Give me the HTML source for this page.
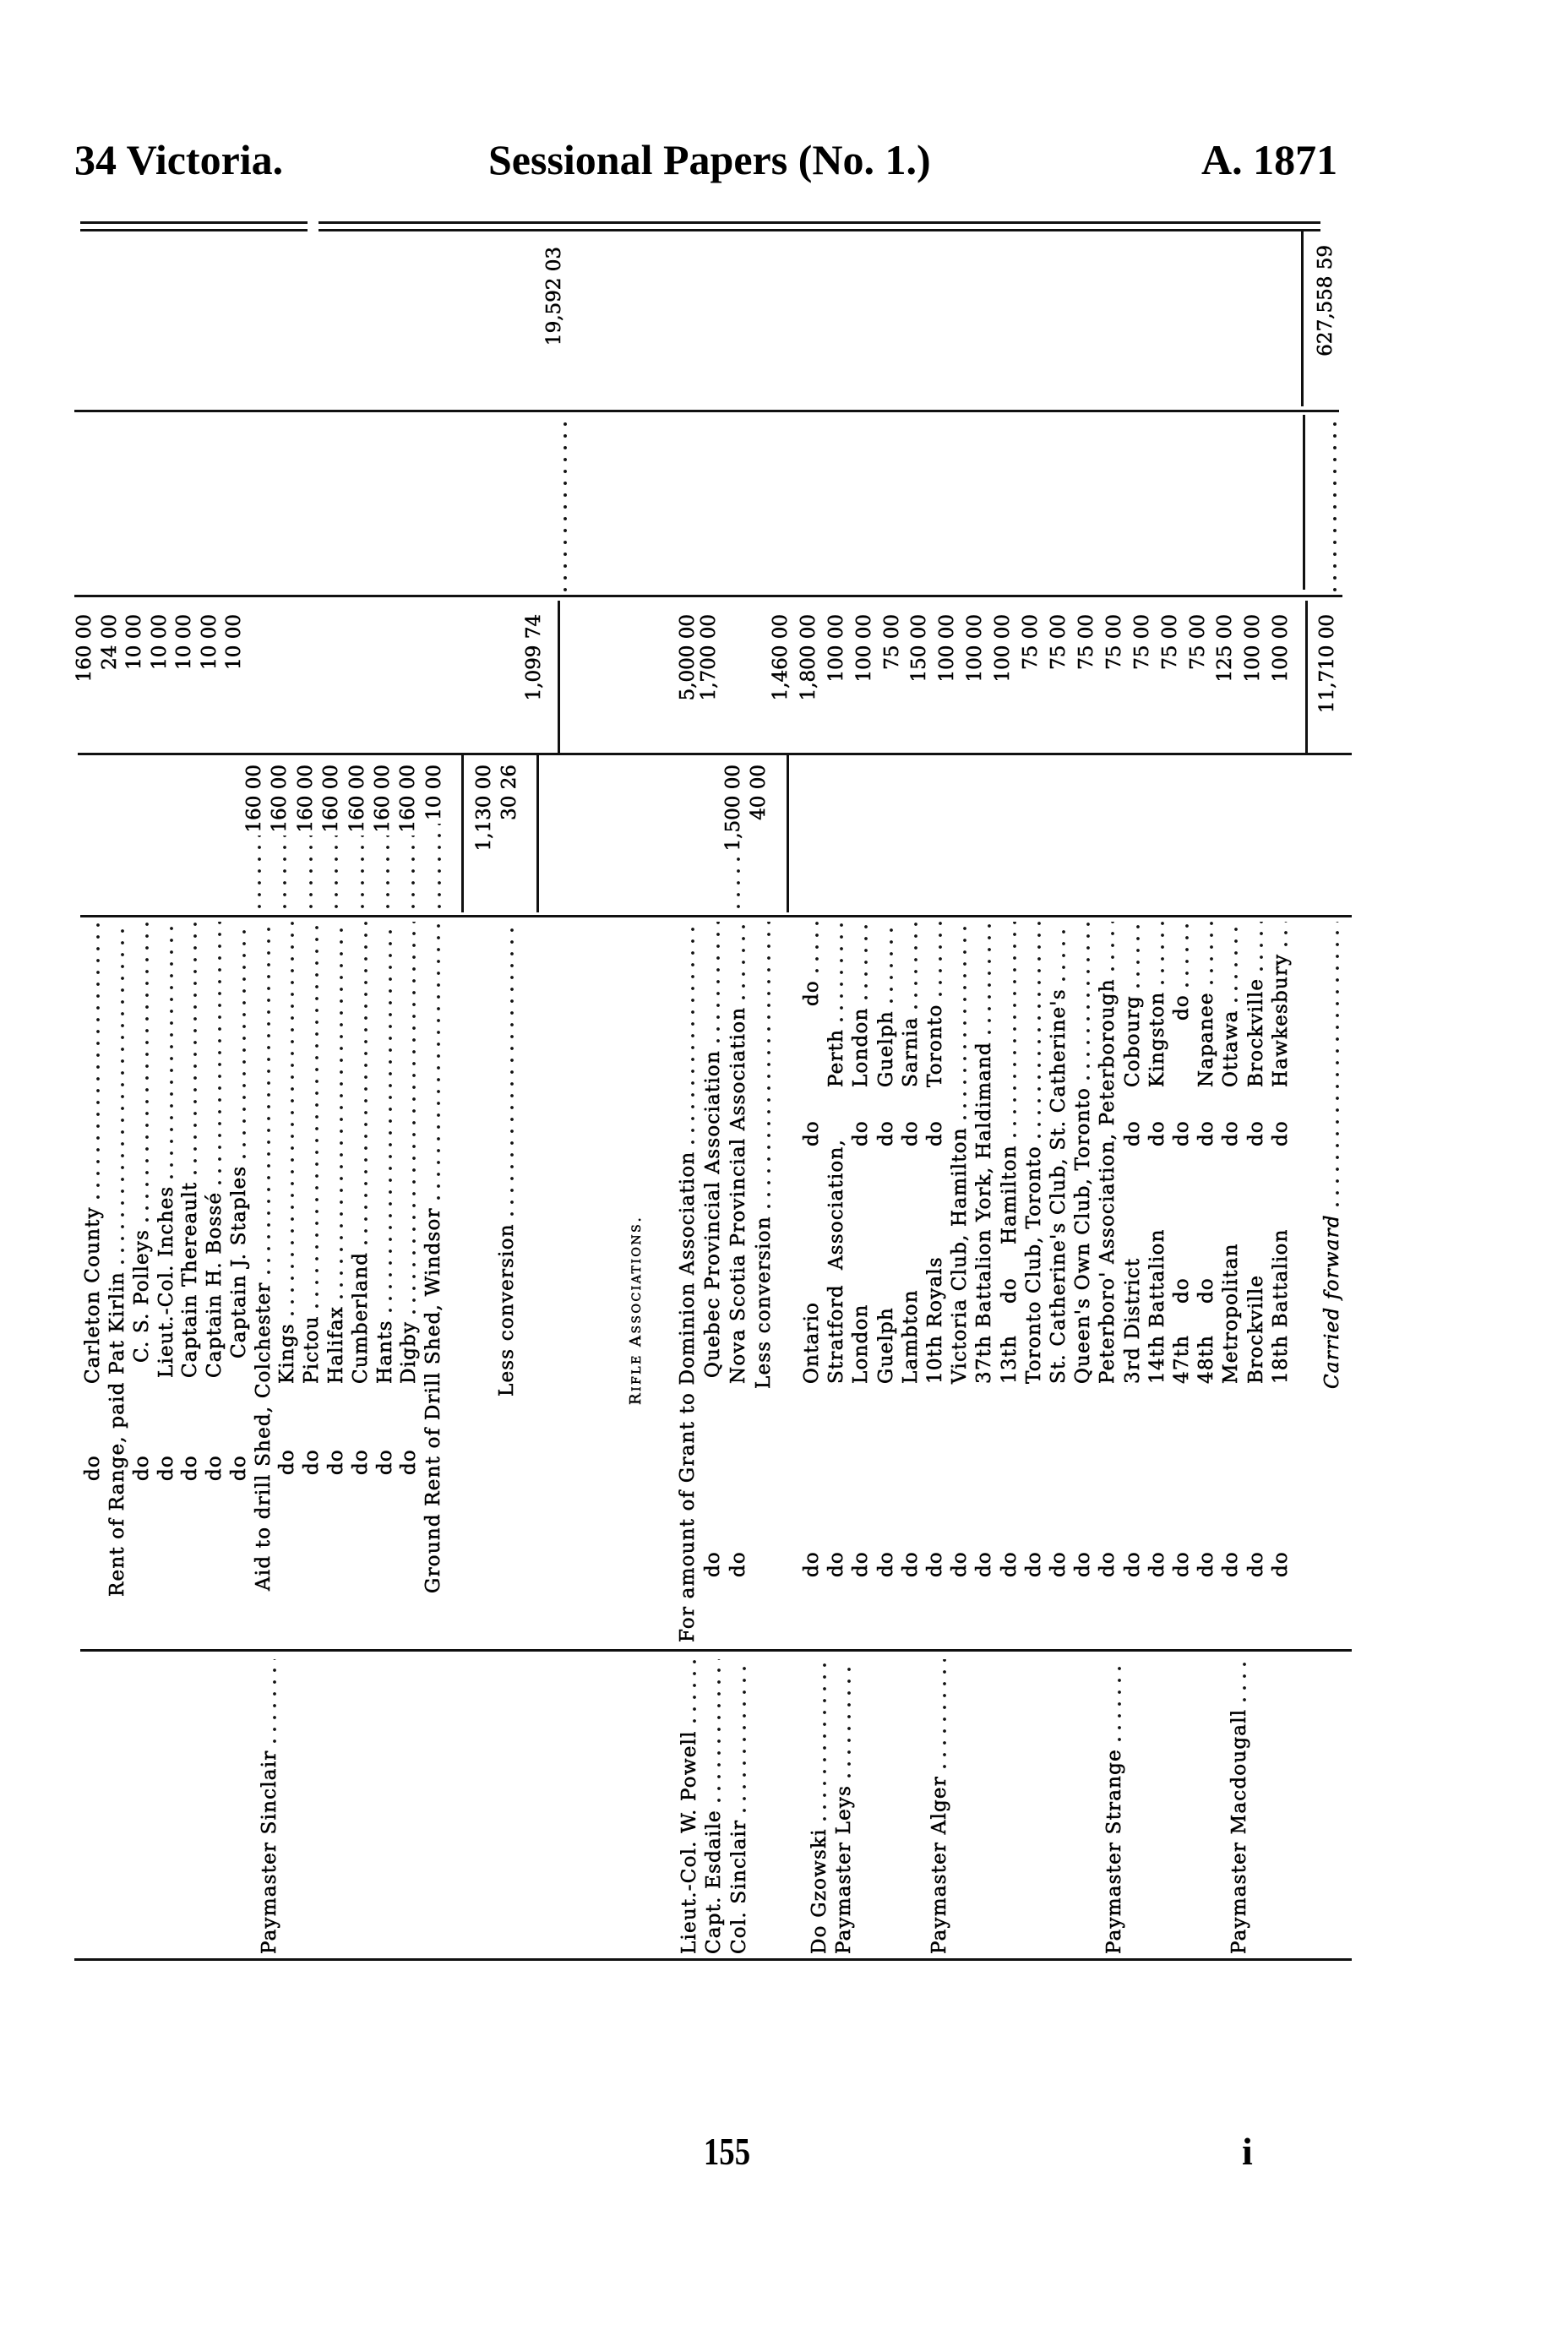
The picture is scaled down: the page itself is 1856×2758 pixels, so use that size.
<!DOCTYPE html>
<html><head><meta charset="utf-8"><style>
body{margin:0;background:#fff}
#p{position:relative;width:1856px;height:2758px;overflow:hidden;background:#fff;color:#000;font-family:"DejaVu Serif","Liberation Serif",serif}
.h{position:absolute;top:164px;font-family:"Liberation Serif",serif;font-weight:bold;font-size:50px;line-height:50px;white-space:nowrap}
.hl{position:absolute;height:3px;background:#111}
.vl{position:absolute;width:3px;background:#111}
.vd{position:absolute;width:4px;background:radial-gradient(circle,#111 1.7px,transparent 2.3px) 0 0/4px 14px repeat-y}
.r{position:absolute;height:28px;line-height:28px;transform-origin:0 0;transform:rotate(-90deg);white-space:nowrap;overflow:hidden;font-size:23px;letter-spacing:1.2px;-webkit-text-stroke:0.5px #000}
.r i{position:absolute;top:0;font-style:normal}
.L{position:absolute;top:0;right:0;display:flex}
.L em{flex:1;margin:0 4px;background:radial-gradient(circle,#111 1.6px,transparent 2.2px) 0 17px/14px 6px repeat-x}
.n{text-align:right;font-size:23px;letter-spacing:0}
</style></head><body><div id="p">
<div class="h" style="left:88px">34 Victoria.</div>
<div class="h" style="left:578px">Sessional Papers (No. 1.)</div>
<div class="h" style="left:1422px">A. 1871</div>

<div class="hl" style="left:95px;width:269px;top:262px"></div>
<div class="hl" style="left:95px;width:269px;top:271px"></div>
<div class="hl" style="left:377px;width:1186px;top:262px"></div>
<div class="hl" style="left:377px;width:1186px;top:271px"></div>
<div class="hl" style="left:88px;width:1497px;top:485px"></div>
<div class="hl" style="left:88px;width:1501px;top:704px"></div>
<div class="hl" style="left:92px;width:1508px;top:891px"></div>
<div class="hl" style="left:95px;width:1505px;top:1083px"></div>
<div class="hl" style="left:95px;width:1505px;top:1952px"></div>
<div class="hl" style="left:88px;width:1512px;top:2318px"></div>

<div class="vl" style="left:1540px;top:274px;height:207px"></div>
<div class="vl" style="left:1542px;top:491px;height:207px"></div>
<div class="vl" style="left:1545px;top:711px;height:180px"></div>
<div class="vl" style="left:660px;top:711px;height:180px"></div>
<div class="vl" style="left:546px;top:894px;height:186px"></div>
<div class="vl" style="left:635px;top:894px;height:186px"></div>
<div class="vl" style="left:931px;top:894px;height:186px"></div>
<div class="vd" style="left:667px;top:495px;height:205px"></div>
<div class="vd" style="left:1578px;top:495px;height:205px"></div>

<!-- band6 totals -->
<div class="r n" style="left:642px;top:432px;width:140px">19,592 03</div>
<div class="r n" style="left:1555px;top:446px;width:156px">627,558 59</div>

<!-- band4 amounts -->
<div class="r n" style="left:86px;top:892px;width:165px">160 00</div>
<div class="r n" style="left:116px;top:892px;width:165px">24 00</div>
<div class="r n" style="left:145px;top:892px;width:165px">10 00</div>
<div class="r n" style="left:175px;top:892px;width:165px">10 00</div>
<div class="r n" style="left:204px;top:892px;width:165px">10 00</div>
<div class="r n" style="left:234px;top:892px;width:165px">10 00</div>
<div class="r n" style="left:263px;top:892px;width:165px">10 00</div>
<div class="r n" style="left:618px;top:892px;width:165px">1,099 74</div>
<div class="r n" style="left:800px;top:892px;width:165px">5,000 00</div>
<div class="r n" style="left:825px;top:892px;width:165px">1,700 00</div>
<div class="r n" style="left:910px;top:892px;width:165px">1,460 00</div>
<div class="r n" style="left:943px;top:892px;width:165px">1,800 00</div>
<div class="r n" style="left:976px;top:892px;width:165px">100 00</div>
<div class="r n" style="left:1009px;top:892px;width:165px">100 00</div>
<div class="r n" style="left:1042px;top:892px;width:165px">75 00</div>
<div class="r n" style="left:1074px;top:892px;width:165px">150 00</div>
<div class="r n" style="left:1107px;top:892px;width:165px">100 00</div>
<div class="r n" style="left:1140px;top:892px;width:165px">100 00</div>
<div class="r n" style="left:1173px;top:892px;width:165px">100 00</div>
<div class="r n" style="left:1206px;top:892px;width:165px">75 00</div>
<div class="r n" style="left:1239px;top:892px;width:165px">75 00</div>
<div class="r n" style="left:1272px;top:892px;width:165px">75 00</div>
<div class="r n" style="left:1305px;top:892px;width:165px">75 00</div>
<div class="r n" style="left:1338px;top:892px;width:165px">75 00</div>
<div class="r n" style="left:1371px;top:892px;width:165px">75 00</div>
<div class="r n" style="left:1404px;top:892px;width:165px">75 00</div>
<div class="r n" style="left:1436px;top:892px;width:165px">125 00</div>
<div class="r n" style="left:1469px;top:892px;width:165px">100 00</div>
<div class="r n" style="left:1502px;top:892px;width:165px">100 00</div>
<div class="r n" style="left:1557px;top:892px;width:165px">11,710 00</div>

<!-- band3 -->
<div class="r" style="left:96px;top:1084px;width:179px"><span class="L" style="left:0"><em></em></span></div>
<div class="r" style="left:125px;top:1084px;width:179px"><span class="L" style="left:0"><em></em></span></div>
<div class="r" style="left:154px;top:1084px;width:179px"><span class="L" style="left:0"><em></em></span></div>
<div class="r" style="left:183px;top:1084px;width:179px"><span class="L" style="left:0"><em></em></span></div>
<div class="r" style="left:211px;top:1084px;width:179px"><span class="L" style="left:0"><em></em></span></div>
<div class="r" style="left:240px;top:1084px;width:179px"><span class="L" style="left:0"><em></em></span></div>
<div class="r" style="left:269px;top:1084px;width:179px"><span class="L" style="left:0"><em></em></span></div>
<div class="r" style="left:287px;top:1084px;width:179px"><span class="L n" style="left:0"><em></em>160 00</span></div>
<div class="r" style="left:317px;top:1084px;width:179px"><span class="L n" style="left:0"><em></em>160 00</span></div>
<div class="r" style="left:348px;top:1084px;width:179px"><span class="L n" style="left:0"><em></em>160 00</span></div>
<div class="r" style="left:378px;top:1084px;width:179px"><span class="L n" style="left:0"><em></em>160 00</span></div>
<div class="r" style="left:409px;top:1084px;width:179px"><span class="L n" style="left:0"><em></em>160 00</span></div>
<div class="r" style="left:439px;top:1084px;width:179px"><span class="L n" style="left:0"><em></em>160 00</span></div>
<div class="r" style="left:469px;top:1084px;width:179px"><span class="L n" style="left:0"><em></em>160 00</span></div>
<div class="r" style="left:500px;top:1084px;width:179px"><span class="L n" style="left:0"><em></em>10 00</span></div>
<div class="r n" style="left:559px;top:1084px;width:179px">1,130 00</div>
<div class="r n" style="left:589px;top:1084px;width:179px">30 26</div>
<div class="r" style="left:800px;top:1084px;width:179px"><span class="L" style="left:0"><em></em></span></div>
<div class="r" style="left:830px;top:1084px;width:179px"><span class="L" style="left:0"><em></em></span></div>
<div class="r" style="left:854px;top:1084px;width:179px"><span class="L n" style="left:0"><em></em>1,500 00</span></div>
<div class="r n" style="left:884px;top:1084px;width:179px">40 00</div>
<div class="r" style="left:947px;top:1084px;width:179px"><span class="L" style="left:0"><em></em></span></div>
<div class="r" style="left:976px;top:1084px;width:179px"><span class="L" style="left:0"><em></em></span></div>
<div class="r" style="left:1005px;top:1084px;width:179px"><span class="L" style="left:0"><em></em></span></div>
<div class="r" style="left:1035px;top:1084px;width:179px"><span class="L" style="left:0"><em></em></span></div>
<div class="r" style="left:1064px;top:1084px;width:179px"><span class="L" style="left:0"><em></em></span></div>
<div class="r" style="left:1093px;top:1084px;width:179px"><span class="L" style="left:0"><em></em></span></div>
<div class="r" style="left:1122px;top:1084px;width:179px"><span class="L" style="left:0"><em></em></span></div>
<div class="r" style="left:1151px;top:1084px;width:179px"><span class="L" style="left:0"><em></em></span></div>
<div class="r" style="left:1181px;top:1084px;width:179px"><span class="L" style="left:0"><em></em></span></div>
<div class="r" style="left:1210px;top:1084px;width:179px"><span class="L" style="left:0"><em></em></span></div>
<div class="r" style="left:1239px;top:1084px;width:179px"><span class="L" style="left:0"><em></em></span></div>
<div class="r" style="left:1268px;top:1084px;width:179px"><span class="L" style="left:0"><em></em></span></div>
<div class="r" style="left:1297px;top:1084px;width:179px"><span class="L" style="left:0"><em></em></span></div>
<div class="r" style="left:1327px;top:1084px;width:179px"><span class="L" style="left:0"><em></em></span></div>
<div class="r" style="left:1356px;top:1084px;width:179px"><span class="L" style="left:0"><em></em></span></div>
<div class="r" style="left:1385px;top:1084px;width:179px"><span class="L" style="left:0"><em></em></span></div>
<div class="r" style="left:1414px;top:1084px;width:179px"><span class="L" style="left:0"><em></em></span></div>
<div class="r" style="left:1443px;top:1084px;width:179px"><span class="L" style="left:0"><em></em></span></div>
<div class="r" style="left:1473px;top:1084px;width:179px"><span class="L" style="left:0"><em></em></span></div>
<div class="r" style="left:1502px;top:1084px;width:179px"><span class="L" style="left:0"><em></em></span></div>
<div class="r" style="left:1563px;top:1084px;width:179px"><span class="L" style="left:0"><em></em></span></div>

<!-- band2 descriptions -->
<div class="r" style="left:96px;top:1953px;width:866px"><i style="left:200px">do</i><span class="L" style="left:315px">Carleton County<em></em></span></div>
<div class="r" style="left:125px;top:1953px;width:866px"><span class="L" style="left:63px">Rent of Range, paid Pat Kirlin<em></em></span></div>
<div class="r" style="left:154px;top:1953px;width:866px"><i style="left:200px">do</i><span class="L" style="left:340px">C. S. Polleys<em></em></span></div>
<div class="r" style="left:183px;top:1953px;width:866px"><i style="left:200px">do</i><span class="L" style="left:322px">Lieut.-Col. Inches<em></em></span></div>
<div class="r" style="left:211px;top:1953px;width:866px"><i style="left:200px">do</i><span class="L" style="left:322px">Captain Thereault<em></em></span></div>
<div class="r" style="left:240px;top:1953px;width:866px"><i style="left:200px">do</i><span class="L" style="left:322px">Captain H. Bossé<em></em></span></div>
<div class="r" style="left:269px;top:1953px;width:866px"><i style="left:200px">do</i><span class="L" style="left:345px">Captain J. Staples<em></em></span></div>
<div class="r" style="left:298px;top:1953px;width:866px"><span class="L" style="left:70px">Aid to drill Shed, Colchester<em></em></span></div>
<div class="r" style="left:326px;top:1953px;width:866px"><i style="left:207px">do</i><span class="L" style="left:315px">Kings<em></em></span></div>
<div class="r" style="left:355px;top:1953px;width:866px"><i style="left:207px">do</i><span class="L" style="left:315px">Pictou<em></em></span></div>
<div class="r" style="left:384px;top:1953px;width:866px"><i style="left:207px">do</i><span class="L" style="left:315px">Halifax<em></em></span></div>
<div class="r" style="left:413px;top:1953px;width:866px"><i style="left:207px">do</i><span class="L" style="left:315px">Cumberland<em></em></span></div>
<div class="r" style="left:442px;top:1953px;width:866px"><i style="left:207px">do</i><span class="L" style="left:315px">Hants<em></em></span></div>
<div class="r" style="left:470px;top:1953px;width:866px"><i style="left:207px">do</i><span class="L" style="left:315px">Digby<em></em></span></div>
<div class="r" style="left:499px;top:1953px;width:866px"><span class="L" style="left:67px">Ground Rent of Drill Shed, Windsor<em></em></span></div>
<div class="r" style="left:586px;top:1953px;width:866px"><span class="L" style="left:300px">Less conversion<em></em></span></div>
<div class="r" style="left:739px;top:1953px;width:866px;font-size:18px;letter-spacing:2.5px"><i style="left:290px">R<span style="font-size:14px">IFLE</span> A<span style="font-size:14px">SSOCIATIONS</span>.</i></div>
<div class="r" style="left:800px;top:1953px;width:866px"><span class="L" style="left:9px">For amount of Grant to Dominion Association<em></em></span></div>
<div class="r" style="left:830px;top:1953px;width:866px"><i style="left:86px">do</i><span class="L" style="left:322px">Quebec Provincial Association<em></em></span></div>
<div class="r" style="left:860px;top:1953px;width:866px"><i style="left:86px">do</i><span class="L" style="left:315px">Nova Scotia Provincial Association<em></em></span></div>
<div class="r" style="left:890px;top:1953px;width:866px"><span class="L" style="left:309px">Less conversion<em></em></span></div>
<div class="r" style="left:947px;top:1953px;width:866px"><i style="left:86px">do</i><i style="left:315px">Ontario</i><i style="left:596px">do</i><span class="L" style="left:762px">do<em></em></span></div>
<div class="r" style="left:976px;top:1953px;width:866px"><i style="left:86px">do</i><i style="left:315px">Stratford</i><i style="left:450px">Association,</i><span class="L" style="left:666px">Perth<em></em></span></div>
<div class="r" style="left:1005px;top:1953px;width:866px"><i style="left:86px">do</i><i style="left:315px">London</i><i style="left:596px">do</i><span class="L" style="left:666px">London<em></em></span></div>
<div class="r" style="left:1035px;top:1953px;width:866px"><i style="left:86px">do</i><i style="left:315px">Guelph</i><i style="left:596px">do</i><span class="L" style="left:666px">Guelph<em></em></span></div>
<div class="r" style="left:1064px;top:1953px;width:866px"><i style="left:86px">do</i><i style="left:315px">Lambton</i><i style="left:596px">do</i><span class="L" style="left:666px">Sarnia<em></em></span></div>
<div class="r" style="left:1093px;top:1953px;width:866px"><i style="left:86px">do</i><i style="left:315px">10th Royals</i><i style="left:596px">do</i><span class="L" style="left:666px">Toronto<em></em></span></div>
<div class="r" style="left:1122px;top:1953px;width:866px"><i style="left:86px">do</i><span class="L" style="left:315px">Victoria Club, Hamilton<em></em></span></div>
<div class="r" style="left:1151px;top:1953px;width:866px"><i style="left:86px">do</i><span class="L" style="left:315px">37th Battalion York, Haldimand<em></em></span></div>
<div class="r" style="left:1181px;top:1953px;width:866px"><i style="left:86px">do</i><i style="left:315px">13th</i><i style="left:410px">do</i><span class="L" style="left:480px">Hamilton<em></em></span></div>
<div class="r" style="left:1210px;top:1953px;width:866px"><i style="left:86px">do</i><span class="L" style="left:315px">Toronto Club, Toronto<em></em></span></div>
<div class="r" style="left:1239px;top:1953px;width:866px"><i style="left:86px">do</i><span class="L" style="left:315px">St. Catherine's Club, St. Catherine's<em></em></span></div>
<div class="r" style="left:1268px;top:1953px;width:866px"><i style="left:86px">do</i><span class="L" style="left:315px">Queen's Own Club, Toronto<em></em></span></div>
<div class="r" style="left:1297px;top:1953px;width:866px"><i style="left:86px">do</i><span class="L" style="left:315px">Peterboro' Association, Peterborough<em></em></span></div>
<div class="r" style="left:1327px;top:1953px;width:866px"><i style="left:86px">do</i><i style="left:315px">3rd District</i><i style="left:596px">do</i><span class="L" style="left:666px">Cobourg<em></em></span></div>
<div class="r" style="left:1356px;top:1953px;width:866px"><i style="left:86px">do</i><i style="left:315px">14th Battalion</i><i style="left:596px">do</i><span class="L" style="left:666px">Kingston<em></em></span></div>
<div class="r" style="left:1385px;top:1953px;width:866px"><i style="left:86px">do</i><i style="left:315px">47th</i><i style="left:410px">do</i><i style="left:596px">do</i><span class="L" style="left:745px">do<em></em></span></div>
<div class="r" style="left:1414px;top:1953px;width:866px"><i style="left:86px">do</i><i style="left:315px">48th</i><i style="left:410px">do</i><i style="left:596px">do</i><span class="L" style="left:666px">Napanee<em></em></span></div>
<div class="r" style="left:1443px;top:1953px;width:866px"><i style="left:86px">do</i><i style="left:315px">Metropolitan</i><i style="left:596px">do</i><span class="L" style="left:666px">Ottawa<em></em></span></div>
<div class="r" style="left:1473px;top:1953px;width:866px"><i style="left:86px">do</i><i style="left:315px">Brockville</i><i style="left:596px">do</i><span class="L" style="left:666px">Brockville<em></em></span></div>
<div class="r" style="left:1502px;top:1953px;width:866px"><i style="left:86px">do</i><i style="left:315px">18th Battalion</i><i style="left:596px">do</i><span class="L" style="left:666px">Hawkesbury<em></em></span></div>
<div class="r" style="left:1563px;top:1953px;width:866px"><span class="L" style="left:309px;font-style:italic">Carried forward<em></em></span></div>

<!-- band1 names -->
<div class="r" style="left:305px;top:2313px;width:353px"><span class="L" style="left:0">Paymaster Sinclair<em></em></span></div>
<div class="r" style="left:802px;top:2313px;width:353px"><span class="L" style="left:0">Lieut.-Col. W. Powell<em></em></span></div>
<div class="r" style="left:831px;top:2313px;width:353px"><span class="L" style="left:0">Capt. Esdaile<em></em></span></div>
<div class="r" style="left:861px;top:2313px;width:353px"><span class="L" style="left:0">Col. Sinclair<em></em></span></div>
<div class="r" style="left:956px;top:2313px;width:353px"><span class="L" style="left:0">Do Gzowski<em></em></span></div>
<div class="r" style="left:985px;top:2313px;width:353px"><span class="L" style="left:0">Paymaster Leys<em></em></span></div>
<div class="r" style="left:1098px;top:2313px;width:353px"><span class="L" style="left:0">Paymaster Alger<em></em></span></div>
<div class="r" style="left:1305px;top:2313px;width:353px"><span class="L" style="left:0">Paymaster Strange<em></em></span></div>
<div class="r" style="left:1453px;top:2313px;width:353px"><span class="L" style="left:0">Paymaster Macdougall<em></em></span></div>

<div class="h" style="left:826px;top:2522px;font-size:46px;transform:scaleX(0.8)">155</div>
<div class="h" style="left:1470px;top:2522px;font-size:46px">i</div>
</div></body></html>
